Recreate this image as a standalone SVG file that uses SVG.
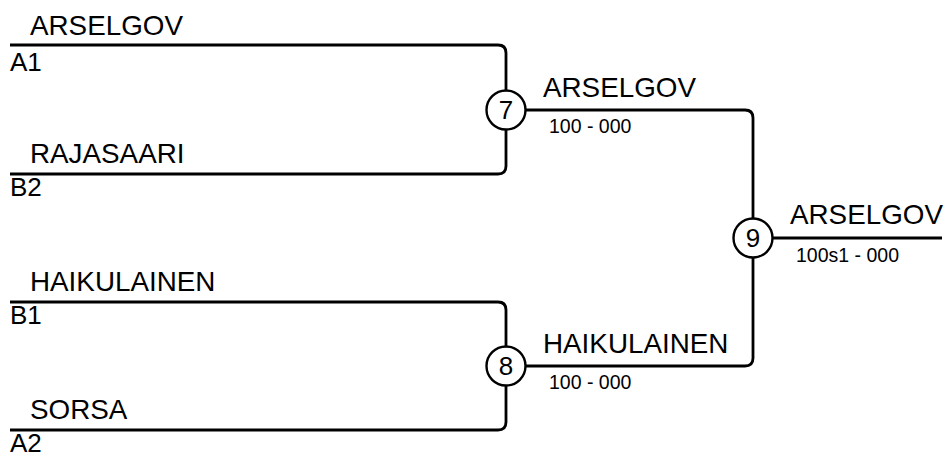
<svg xmlns="http://www.w3.org/2000/svg" width="946" height="457" viewBox="0 0 946 457">
<style>
.ln{fill:none;stroke:#000;stroke-width:2.8;stroke-linejoin:round}
.nd{fill:#fff;stroke:#000;stroke-width:2.4}
.nm{font-family:"Liberation Sans",Arial,sans-serif;font-size:27.8px;fill:#000}
.sd{font-family:"Liberation Sans",Arial,sans-serif;font-size:26px;fill:#000}
.sc{font-family:"Liberation Sans",Arial,sans-serif;font-size:19.5px;fill:#000}
.num{font-family:"Liberation Sans",Arial,sans-serif;font-size:26px;fill:#000;text-anchor:middle}
</style>
<rect width="946" height="457" fill="#fff"/>
<g id="connectors">
<path class="ln" d="M10 45 H498 Q506 45 506 53 V91"/>
<path class="ln" d="M10 174 H498 Q506 174 506 166 V129"/>
<path class="ln" d="M10 302 H498 Q506 302 506 310 V347"/>
<path class="ln" d="M10 430 H498 Q506 430 506 422 V385"/>
<path class="ln" d="M525 110 H745 Q753 110 753 118 V219"/>
<path class="ln" d="M525 366 H745 Q753 366 753 358 V257"/>
<path class="ln" d="M772 238 H942"/>
</g>
<g id="entries">
<text class="nm" x="30" y="35">ARSELGOV</text>
<text class="sd" x="10" y="71">A1</text>
<text class="nm" x="30" y="163">RAJASAARI</text>
<text class="sd" x="10" y="196">B2</text>
<text class="nm" x="30" y="291">HAIKULAINEN</text>
<text class="sd" x="10" y="324">B1</text>
<text class="nm" x="30" y="419">SORSA</text>
<text class="sd" x="10" y="452">A2</text>
</g>
<g id="match7">
<circle class="nd" cx="506" cy="110" r="19.5"/>
<text class="num" x="506" y="119">7</text>
<text class="nm" x="543" y="97">ARSELGOV</text>
<text class="sc" x="549" y="133">100 - 000</text>
</g>
<g id="match8">
<circle class="nd" cx="506" cy="366" r="19.5"/>
<text class="num" x="506" y="375">8</text>
<text class="nm" x="543" y="353">HAIKULAINEN</text>
<text class="sc" x="549" y="389">100 - 000</text>
</g>
<g id="match9">
<circle class="nd" cx="753" cy="238" r="19.5"/>
<text class="num" x="753" y="247">9</text>
<text class="nm" x="790" y="224">ARSELGOV</text>
<text class="sc" x="796" y="262">100s1 - 000</text>
</g>
</svg>
